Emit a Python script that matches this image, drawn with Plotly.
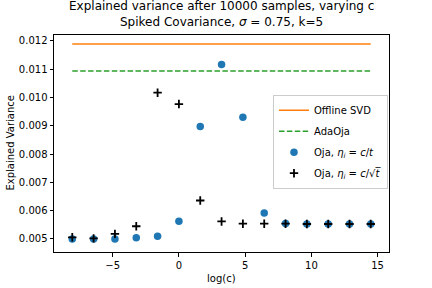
import plotly.graph_objects as go

log_c = [-8.05, -6.44, -4.83, -3.22, -1.61, 0.0, 1.61, 3.22, 4.83, 6.44, 8.05, 9.66, 11.27, 12.88, 14.48]
offline_svd = 0.01189
adaoja = 0.01094
oja_ct = [0.00500, 0.00500, 0.00500, 0.00504, 0.00510, 0.00563, 0.00898, 0.01117, 0.00930,
          0.00592, 0.00555, 0.00553, 0.00553, 0.00553, 0.00553]
oja_csqrt = [0.00506, 0.00502, 0.00518, 0.00545, 0.01017, 0.00977, 0.00636, 0.00562, 0.00554,
             0.00554, 0.00554, 0.00553, 0.00553, 0.00553, 0.00553]

FONT = "DejaVu Sans"

fig = go.Figure()
fig.add_trace(go.Scatter(x=[log_c[0], log_c[-1]], y=[offline_svd, offline_svd], mode="lines",
                         line=dict(color="#ff7f0e", width=1.5), name="Offline SVD", legendgroup="a"))
fig.add_trace(go.Scatter(x=[log_c[0], log_c[-1]], y=[adaoja, adaoja], mode="lines",
                         line=dict(color="#2ca02c", width=1.5, dash="5.5px,2.4px"), name="AdaOja",
                         legendgroup="b"))
fig.add_trace(go.Scatter(x=log_c, y=oja_ct, mode="markers",
                         marker=dict(color="#1f77b4", size=7.5, line=dict(width=0)),
                         name="Oja, <i>η<sub>i</sub></i> = <i>c</i>/<i>t</i>", legendgroup="c"))
fig.add_trace(go.Scatter(x=log_c, y=oja_csqrt, mode="markers",
                         marker=dict(color="black", size=6, symbol="cross-thin",
                                     line=dict(width=1.8, color="black")),
                         name="Oja, <i>η<sub>i</sub></i> = <i>c</i>/√<i>t̅</i>", legendgroup="d"))

axis_common = dict(showgrid=False, zeroline=False, showline=True, linecolor="black", linewidth=1,
                   mirror=True, ticks="outside", ticklen=3.5, tickwidth=1, tickcolor="black",
                   automargin=False,
                   tickfont=dict(family=FONT, size=10, color="black"))

fig.update_layout(
    width=432, height=288,
    margin=dict(l=54, r=43, t=35, b=36, autoexpand=False),
    paper_bgcolor="white", plot_bgcolor="white",
    font=dict(family=FONT, size=10, color="black"),
    showlegend=True,
    legend=dict(x=0.997, y=0.725, xanchor="right", yanchor="top",
                bgcolor="rgba(255,255,255,0.8)", bordercolor="#cccccc", borderwidth=1,
                font=dict(family=FONT, size=10, color="black"), itemwidth=30,
                tracegroupgap=2),
    xaxis=dict(range=[-9.43, 15.86], tickvals=[-5, 0, 5, 10, 15], ticktext=["−5", "0", "5", "10", "15"],
               **axis_common),
    yaxis=dict(range=[0.00454, 0.01221], tickvals=[0.005, 0.006, 0.007, 0.008, 0.009, 0.010, 0.011, 0.012],
               tickformat=".3f", **axis_common),
    annotations=[
        dict(text="Explained variance after 10000 samples, varying c", xref="paper", yref="paper",
             x=0.5, y=1.0, yshift=29, xanchor="center", yanchor="middle", showarrow=False,
             font=dict(family=FONT, size=12, color="black")),
        dict(text="Spiked Covariance, <i>σ</i> = 0.75, k=5", xref="paper", yref="paper",
             x=0.5, y=1.0, yshift=13, xanchor="center", yanchor="middle", showarrow=False,
             font=dict(family=FONT, size=12, color="black")),
        dict(text="log(c)", xref="paper", yref="paper", x=0.5, y=0.0, yshift=-26,
             xanchor="center", yanchor="middle", showarrow=False,
             font=dict(family=FONT, size=10, color="black")),
        dict(text="Explained Variance", xref="paper", yref="paper", x=0.0, y=0.5, xshift=-44,
             xanchor="center", yanchor="middle", textangle=-90, showarrow=False,
             font=dict(family=FONT, size=10, color="black")),
    ],
)

fig.write_html("out.html", config={"displayModeBar": False},
               post_script="document.body.style.margin='0';document.body.style.padding='0';")
